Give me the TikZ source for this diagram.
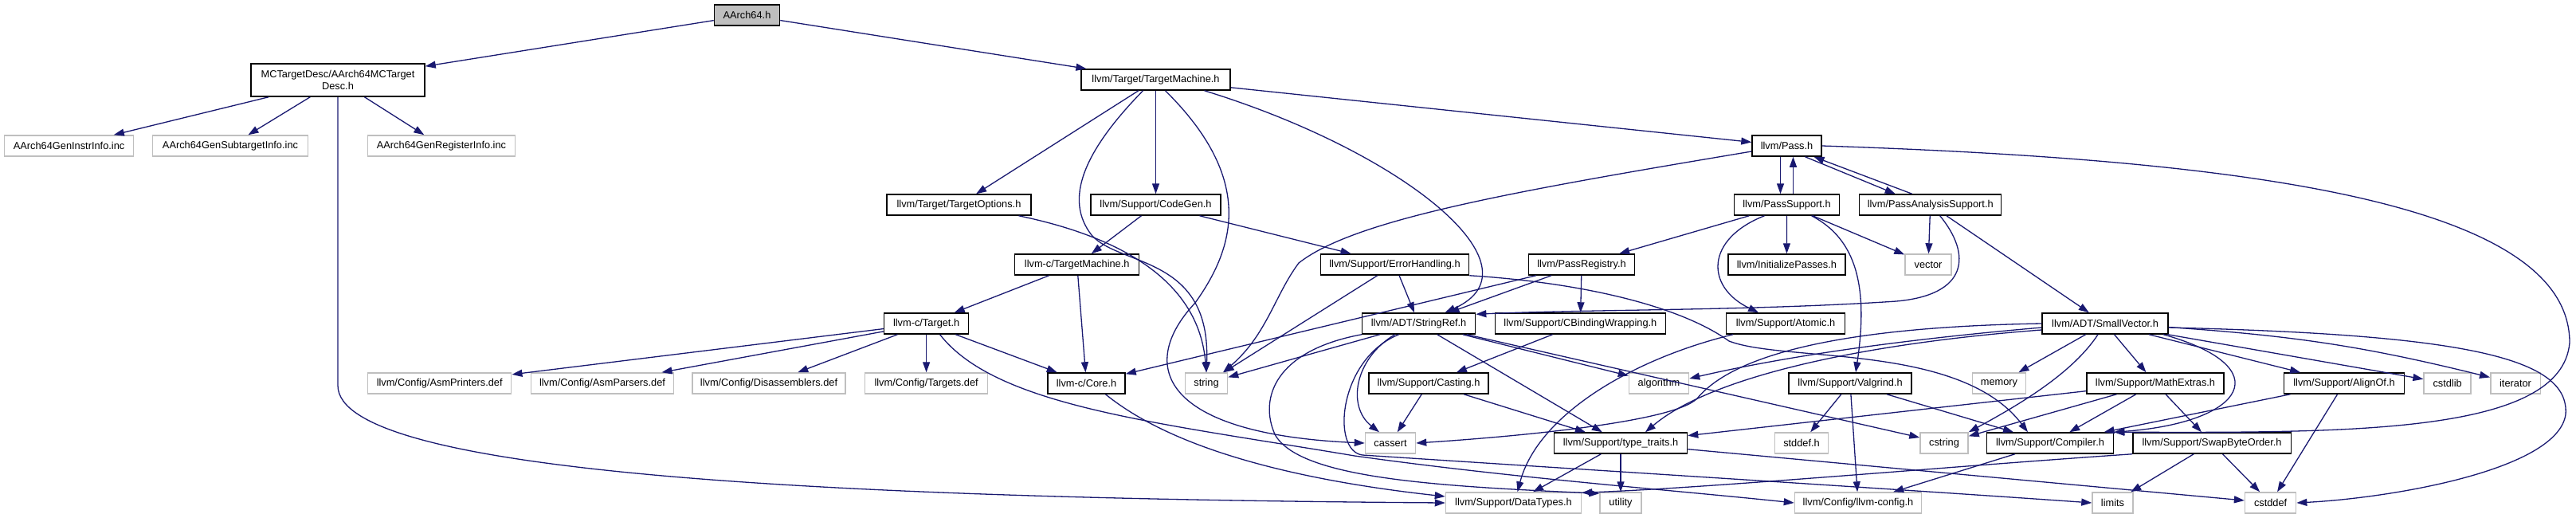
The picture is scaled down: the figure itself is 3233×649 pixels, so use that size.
\documentclass[tikz,border=0pt]{standalone}
\usepackage{fontspec}
\setmainfont{Liberation Sans}
\usetikzlibrary{arrows.meta}
\definecolor{EdgeBlue}{HTML}{191970}
\definecolor{NodeGray}{HTML}{BFBFBF}

\begin{document}
\begin{tikzpicture}[x=1pt, y=-1pt, >={Triangle[length=13pt,width=9pt]},
  hdr/.style={draw=black, line width=1.5pt, fill=white, inner sep=0pt,
    minimum height=26pt, font=\fontsize{12.8}{15}\selectfont},
  sys/.style={hdr, draw=NodeGray},
  dep/.style={->, EdgeBlue, line width=1.3pt}]
  \useasboundingbox (0,0) rectangle (3233,649);

  % Headers, row by row
  \node[hdr, fill=NodeGray, minimum width=82pt] (aarch) at (937.5,19) {AArch64.h};
  \node[hdr, minimum width=218pt, minimum height=41pt, align=center] (mcdesc) at (424,100.5) {MCTargetDesc/AArch64MCTarget\\Desc.h};
  \node[hdr, minimum width=187pt] (tgtmach) at (1450.5,100) {llvm/Target/TargetMachine.h};

  \node[sys, minimum width=162pt] (geninstr) at (86.6,183) {AArch64GenInstrInfo.inc};
  \node[sys, minimum width=195pt] (gensubtgt) at (289,183) {AArch64GenSubtargetInfo.inc};
  \node[sys, minimum width=185pt] (genreg) at (554,183) {AArch64GenRegisterInfo.inc};
  \node[hdr, minimum width=87pt] (pass) at (2242.5,183) {llvm/Pass.h};

  \node[hdr, minimum width=181pt] (tgtopts) at (1203.5,257) {llvm/Target/TargetOptions.h};
  \node[hdr, minimum width=163pt] (codegen) at (1450.5,257) {llvm/Support/CodeGen.h};
  \node[hdr, minimum width=132pt] (passsup) at (2242.5,257) {llvm/PassSupport.h};
  \node[hdr, minimum width=178pt] (passana) at (2422.7,257) {llvm/PassAnalysisSupport.h};

  \node[hdr, minimum width=156pt] (ctgtmach) at (1351.7,332) {llvm-c/TargetMachine.h};
  \node[hdr, minimum width=186pt] (errh) at (1750.5,332) {llvm/Support/ErrorHandling.h};
  \node[hdr, minimum width=133pt] (passreg) at (1985,332) {llvm/PassRegistry.h};
  \node[hdr, minimum width=147pt] (initp) at (2242.4,332) {llvm/InitializePasses.h};
  \node[sys, minimum width=58pt] (vector) at (2420,332) {vector};

  \node[hdr, minimum width=106pt] (ctarget) at (1162.6,406) {llvm-c/Target.h};
  \node[hdr, minimum width=142pt] (strref) at (1780.6,406) {llvm/ADT/StringRef.h};
  \node[hdr, minimum width=214pt] (cbind) at (1983.4,406) {llvm/Support/CBindingWrapping.h};
  \node[hdr, minimum width=149pt] (atomic) at (2241,406) {llvm/Support/Atomic.h};
  \node[hdr, minimum width=158pt] (smallvec) at (2642,406) {llvm/ADT/SmallVector.h};

  \node[sys, minimum width=180pt] (asmprint) at (551.7,481) {llvm/Config/AsmPrinters.def};
  \node[sys, minimum width=179pt] (asmparse) at (756,481) {llvm/Config/AsmParsers.def};
  \node[sys, minimum width=192pt] (disasm) at (965,481) {llvm/Config/Disassemblers.def};
  \node[sys, minimum width=154pt] (tgtdef) at (1162.6,481) {llvm/Config/Targets.def};
  \node[hdr, minimum width=97pt] (ccore) at (1363.5,481) {llvm-c/Core.h};
  \node[sys, minimum width=53pt] (string) at (1514,481) {string};
  \node[hdr, minimum width=150pt] (casting) at (1793,481) {llvm/Support/Casting.h};
  \node[sys, minimum width=75pt] (algo) at (2082,481) {algorithm};
  \node[hdr, minimum width=154pt] (valgrind) at (2322,481) {llvm/Support/Valgrind.h};
  \node[sys, minimum width=67pt] (memory) at (2509,481) {memory};
  \node[hdr, minimum width=172pt] (mathx) at (2705,481) {llvm/Support/MathExtras.h};
  \node[hdr, minimum width=151pt] (alignof) at (2942,481) {llvm/Support/AlignOf.h};
  \node[sys, minimum width=59pt] (cstdlib) at (3071.6,481) {cstdlib};
  \node[sys, minimum width=62.5pt] (iterator) at (3157,481) {iterator};

  \node[sys, minimum width=63pt] (cassert) at (1745,556) {cassert};
  \node[hdr, minimum width=167pt] (typetr) at (2034,556) {llvm/Support/type\_traits.h};
  \node[sys, minimum width=67pt] (stddef) at (2261,556) {stddef.h};
  \node[sys, minimum width=60pt] (cstring) at (2440,556) {cstring};
  \node[hdr, minimum width=159pt] (compiler) at (2573,556) {llvm/Support/Compiler.h};
  \node[hdr, minimum width=198.5pt] (swapbo) at (2776,556) {llvm/Support/SwapByteOrder.h};

  \node[sys, minimum width=170pt] (dtypes) at (1899.5,631) {llvm/Support/DataTypes.h};
  \node[sys, minimum width=52pt] (utility) at (2034,631) {utility};
  \node[sys, minimum width=159pt] (llvmcfg) at (2332,631) {llvm/Config/llvm-config.h};
  \node[sys, minimum width=51pt] (limits) at (2651.5,631) {limits};
  \node[sys, minimum width=64pt] (cstddef) at (2849.6,631) {cstddef};

  % Straight includes
  \path[dep] (aarch) edge (mcdesc) edge (tgtmach);
  \path[dep] (mcdesc) edge (geninstr) edge (gensubtgt) edge (genreg);
  \path[dep] (tgtmach) edge (tgtopts) edge (codegen) edge (pass);
  \path[dep] (codegen) edge (ctgtmach) edge (errh);
  \path[dep] (ctgtmach) edge (ctarget) edge (ccore);
  \path[dep] (ctarget) edge (asmprint) edge (asmparse) edge (disasm) edge (tgtdef) edge (ccore);
  \path[dep] (errh) edge (string) edge (strref);
  \path[dep] (passreg) edge (ccore) edge (strref) edge (cbind);
  \path[dep] (cbind) edge (casting);
  \path[dep] (passsup) edge (passreg) edge (initp) edge (vector);
  \path[dep] (passana) edge (vector) edge (smallvec);
  \path[dep] (strref) edge (string) edge (algo) edge (typetr) edge (cstring);
  \path[dep] (casting) edge (cassert) edge (typetr);
  \path[dep] (typetr) edge (dtypes) edge (utility) edge (cstddef);
  \path[dep] (smallvec) edge (memory) edge (mathx) edge (alignof) edge (cstdlib) edge[bend left=5] (iterator);
  \path[dep] (mathx) edge (typetr) edge (cstring) edge (compiler) edge (swapbo);
  \path[dep] (alignof) edge (compiler) edge (cstddef);
  \path[dep] (swapbo) edge (limits) edge (cstddef);
  \path[dep] (compiler) edge (llvmcfg);
  \path[dep] (valgrind) edge (stddef) edge (llvmcfg) edge (compiler);

  % Pass.h cycles
  \draw[dep] ([xshift=-8pt]pass.south) -- ([xshift=-8pt]passsup.north);
  \draw[dep] ([xshift=8pt]passsup.north) -- ([xshift=8pt]pass.south);
  \draw[dep] ([xshift=23pt]pass.south) -- ([xshift=-44pt]passana.north);
  \draw[dep] ([xshift=-23pt]passana.north) -- ([xshift=34pt]pass.south);

  % Curved includes
  \draw[dep] (mcdesc.south) -- ++(0,362) .. controls +(0,107) and (1000,625) .. (dtypes.west);
  \draw[dep] ([xshift=-16pt]tgtmach.south) .. controls (1360,190) and (1335,250) .. (1370,295)
    .. controls (1405,335) and (1520,320) .. (string.north);
  \draw[dep] ([xshift=75pt]tgtopts.south) .. controls (1420,300) and (1505,360) .. (string.north);
  \draw[dep] ([xshift=12pt]tgtmach.south) .. controls (1575,225) and (1550,310) .. (1500,380)
    .. controls (1425,460) and (1460,545) .. (cassert.west);
  \draw[dep] ([xshift=61pt]tgtmach.south) .. controls (1760,190) and (1940,335) .. ([xshift=33pt]strref.north);
  \draw[dep] ([yshift=-7pt]pass.west) .. controls (1900,240) and (1700,275) .. (1630,330)
    .. controls (1600,370) and (1590,420) .. ([xshift=21pt]string.north);
  \draw[dep] (pass.east) .. controls (2800,200) and (3225,250) .. (3225,430)
    .. controls (3215,545) and (2950,543) .. (compiler.north east);
  \draw[dep] (errh.south east) .. controls (1990,355) and (2110,385) .. (2170,428)
    .. controls (2240,455) and (2460,430) .. ([xshift=-28pt]compiler.north);
  \draw[dep] ([xshift=17pt]ctarget.south) .. controls (1250,510) and (1450,530) .. (1700,572)
    .. controls (1900,600) and (2100,615) .. (llvmcfg.west);
  \draw[dep] ([xshift=24pt]ccore.south) .. controls (1480,570) and (1650,605) .. ([yshift=8pt]dtypes.west);
  \draw[dep] ([xshift=-28pt]passsup.south) .. controls (2140,300) and (2140,360) .. ([xshift=-34pt]atomic.north);
  \draw[dep] ([xshift=31pt]passsup.south) .. controls (2330,300) and (2345,360) .. ([xshift=7pt]valgrind.north);
  \draw[dep] ([xshift=12pt]passana.south) .. controls (2475,320) and (2470,370) .. (2380,378)
    .. controls (2200,390) and (2000,388) .. ([yshift=-2pt]strref.north east);
  \draw[dep] ([xshift=-30pt]strref.south) .. controls (1700,450) and (1690,510) .. ([xshift=-14pt]cassert.north);
  \draw[dep] (strref.south west) .. controls (1600,440) and (1580,500) .. (1600,545)
    .. controls (1630,600) and (1800,610) .. ([yshift=-2pt]utility.north west);
  \draw[dep] ([xshift=-25pt]strref.south) .. controls (1680,450) and (1670,566) .. (1710,571)
    .. controls (2000,590) and (2400,615) .. (limits.west);
  \draw[dep] ([yshift=-5pt]smallvec.west) .. controls (2400,425) and (2250,445) .. ([yshift=6pt]algo.east);
  \draw[dep] (smallvec.west) .. controls (2330,410) and (2180,440) .. (2130,500)
    .. controls (2100,530) and (1900,548) .. (cassert.east);
  \draw[dep] ([yshift=-8pt]smallvec.west) .. controls (2350,430) and (2150,470) .. ([xshift=31pt]typetr.north);
  \draw[dep] ([xshift=-9pt]smallvec.south) .. controls (2600,470) and (2530,510) .. (cstring.north east);
  \draw[dep] ([xshift=73pt]smallvec.south) .. controls (2860,460) and (2820,530) .. (compiler.north east);
  \draw[dep] ([yshift=-5pt]smallvec.east) .. controls (3100,420) and (3225,450) .. (3220,520)
    .. controls (3210,590) and (3000,625) .. (cstddef.east);
  \draw[dep] ([xshift=-66pt]atomic.south) .. controls (2050,450) and (1930,520) .. ([xshift=5pt]dtypes.north);
  \draw[dep] (swapbo.south west) .. controls (2450,585) and (2150,612) .. ([yshift=-1pt]dtypes.north east);
\end{tikzpicture}
\end{document}
